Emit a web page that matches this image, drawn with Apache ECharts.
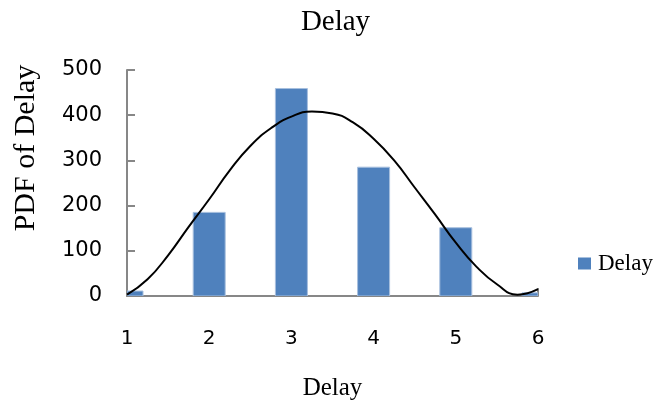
<!DOCTYPE html>
<html><head><meta charset="utf-8">
<script src="https://cdn.jsdelivr.net/npm/echarts@6/dist/echarts.min.js"></script>
<style>html,body{margin:0;padding:0;background:#fff}#c{width:671px;height:406px}</style>
</head><body><div id="c"></div>
<script>
const barX = [1, 2, 3, 4, 5, 6];
const barY = [11, 185, 459, 285, 151, 7];
const curveX = [1, 1.25, 1.5, 1.75, 2, 2.25, 2.5, 2.75, 3, 3.25, 3.5, 3.75, 4, 4.25, 4.5, 4.75, 5, 5.25, 5.5, 5.75, 6];
const curveY = [3, 37, 90, 153, 214, 278, 332, 371, 397, 408, 404, 384, 348, 300, 240, 180, 118, 65, 26, 3, 15];
const yTicks = [0, 100, 200, 300, 400, 500];

const chart = echarts.init(document.getElementById('c'), null, {renderer: 'canvas'});
const serif = '"Liberation Serif","Times New Roman",serif';
const sans = '"DejaVu Sans",sans-serif';
chart.setOption({
  animation: false,
  title: {text: 'Delay', left: 'center', top: 3, textStyle: {fontFamily: serif, fontWeight: 'normal', fontSize: 29, color: '#000'}},
  legend: {data: [{name: 'Delay', icon: 'rect'}], left: 573, top: 247, orient: 'vertical', itemWidth: 13, itemHeight: 12, itemGap: 6,
    textStyle: {fontFamily: serif, fontSize: 23, color: '#000', padding: [0, 0, 0, 2]}},
  grid: {left: 127, right: 133, top: 70, bottom: 110},
  xAxis: {type: 'value', min: 1, max: 6, interval: 1, name: 'Delay', nameLocation: 'middle', nameGap: 80,
    nameTextStyle: {fontFamily: serif, fontSize: 25, color: '#000'},
    axisLine: {lineStyle: {color: '#878787', width: 2}},
    axisTick: {show: true, inside: true, length: 8, lineStyle: {color: '#878787', width: 2}},
    axisLabel: {margin: 33, fontFamily: sans, fontSize: 20, color: '#000'},
    splitLine: {show: false}},
  yAxis: {type: 'value', min: 0, max: 500, interval: 100, name: 'PDF of Delay', nameLocation: 'middle', nameGap: 86,
    nameTextStyle: {fontFamily: serif, fontSize: 30, color: '#000', padding: [0, 0, 0, 70]},
    axisLine: {show: true, lineStyle: {color: '#878787', width: 2}},
    axisTick: {show: true, inside: true, length: 8, lineStyle: {color: '#878787', width: 2}},
    axisLabel: {margin: 25, fontFamily: sans, fontSize: 21, color: '#000',
      formatter: v => yTicks.includes(v) ? String(v) : ''},
    splitLine: {show: false}},
  series: [
    {name: 'Delay', type: 'custom', clip: true,
      itemStyle: {color: '#4F81BD'},
      encode: {x: 0, y: 1},
      data: barX.map((x, i) => [x, barY[i]]),
      renderItem: function (params, api) {
        const top = api.coord([api.value(0), api.value(1)]);
        const base = api.coord([api.value(0), 0]);
        const w = 32;
        const cs = params.coordSys;
        const rect = echarts.graphic.clipRectByRect(
          {x: top[0] - w / 2, y: top[1], width: w, height: base[1] - top[1]},
          {x: cs.x, y: cs.y, width: cs.width, height: cs.height});
        return rect && {type: 'rect', shape: rect,
          style: {fill: '#4F81BD', stroke: '#A7BFDE', lineWidth: 1}};
      }},
    {name: 'PDF', type: 'line', smooth: 0.5, showSymbol: false, symbol: 'none', clip: false,
      lineStyle: {color: '#000', width: 2},
      data: curveX.map((x, i) => [x, curveY[i]])}
  ]
});
</script></body></html>
